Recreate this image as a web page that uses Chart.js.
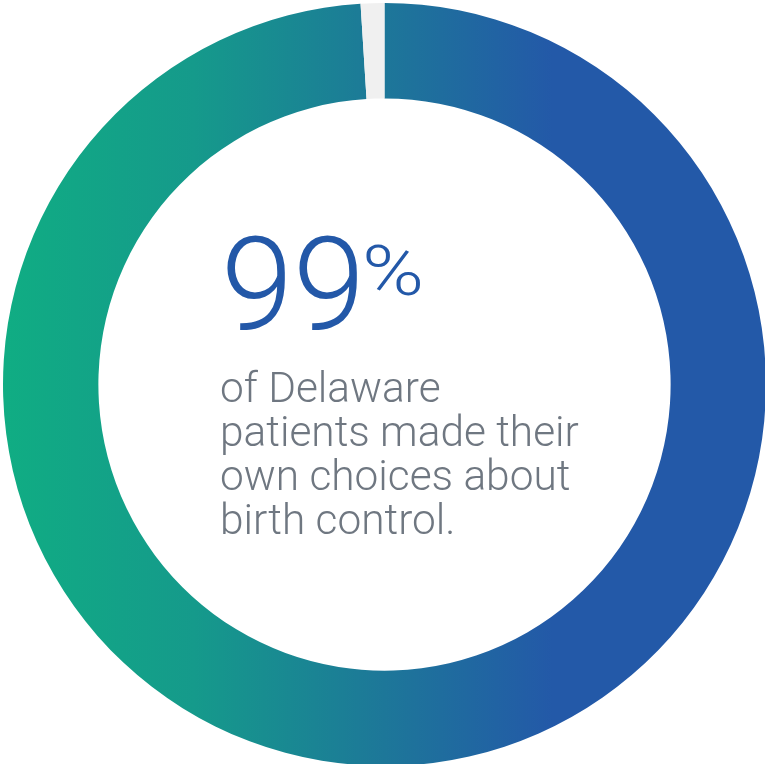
<!DOCTYPE html>
<html>
<head>
<meta charset="utf-8">
<script src="https://cdn.jsdelivr.net/npm/chart.js@4"></script>
<style>
  html, body { margin: 0; padding: 0; background: #ffffff; width: 765px; height: 764px; overflow: hidden; }
  #wrap { position: absolute; left: 3px; top: 3px; width: 763px; height: 763px; }
  #center { position: absolute; left: 0; top: 0; width: 765px; height: 764px; pointer-events: none; font-family: Roboto, sans-serif; font-weight: 300; }
  #big { position: absolute; left: 221px; top: 210px; color: #2358a8; font-size: 130px; line-height: 150px; white-space: nowrap; }
  #unit { position: absolute; left: 362px; top: 237px; color: #2358a8; font-size: 70px; line-height: 68px; white-space: nowrap; transform: scaleX(1.2); transform-origin: left top; }
  #caption { position: absolute; left: 220px; top: 366px; color: #6f7781; font-size: 42.4px; line-height: 44px; white-space: nowrap; }
</style>
</head>
<body>
<div id="wrap"><canvas id="ring"></canvas></div>
<div id="center">
  <div id="big"></div>
  <div id="unit"></div>
  <div id="caption"></div>
</div>
<script>
// values
const sliceLabels = ['Made own choices', 'Did not'];
const sliceValues = [99, 1];
const headline = '99';
const headlineUnit = '%';
const captionLines = ['of Delaware', 'patients made their', 'own choices about', 'birth control.'];

document.getElementById('big').textContent = headline;
document.getElementById('unit').textContent = headlineUnit;
document.getElementById('caption').innerHTML = captionLines.join('<br>');

// green-to-blue sweep for the main slice, flat grey for the remainder
function ringFill(context) {
    if (context.dataIndex === 1) return '#f0f0f0';
    const chart = context.chart;
    const area = chart.chartArea;
    if (!area) return '#2358a8';
    const g = chart.ctx.createLinearGradient(area.left, 0, area.right, 0);
    g.addColorStop(0, '#10ad83');
    g.addColorStop(0.25, '#159a8b');
    g.addColorStop(0.5, '#1d7799');
    g.addColorStop(0.72, '#2359a8');
    g.addColorStop(1, '#2359a8');
    return g;
}

new Chart(document.getElementById('ring').getContext('2d'), {
    type: 'doughnut',
    data: {
        labels: sliceLabels,
        datasets: [{
            data: sliceValues,
            backgroundColor: ringFill,
            borderWidth: 0,
            hoverOffset: 0
        }]
    },
    options: {
        responsive: true,
        maintainAspectRatio: false,
        animation: false,
        cutout: '75%',
        layout: { padding: 0 },
        plugins: { legend: { display: false }, tooltip: { enabled: false } }
    }
});
</script>
</body>
</html>
